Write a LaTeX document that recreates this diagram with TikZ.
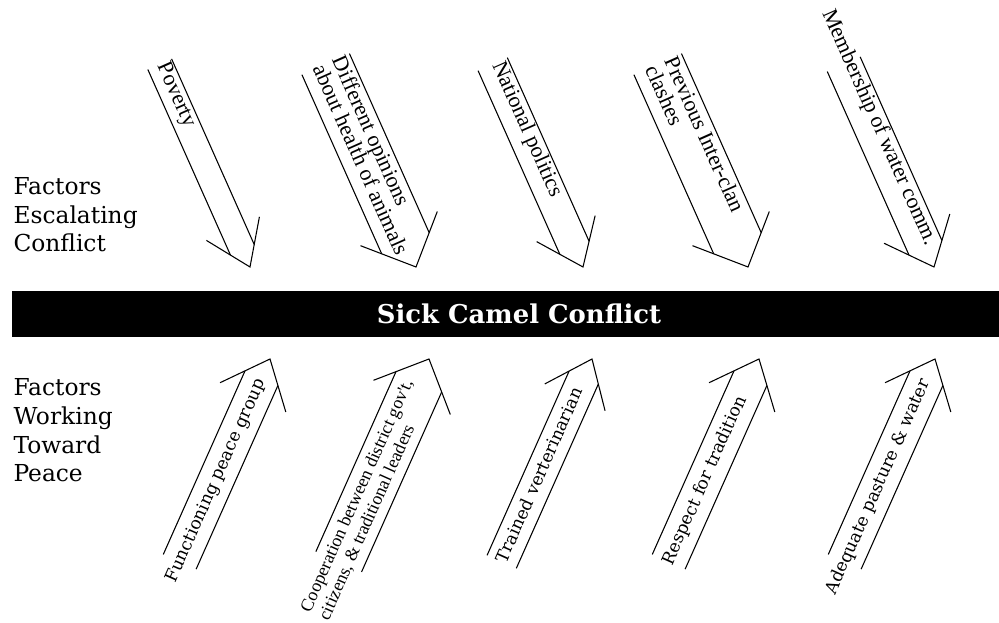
\documentclass[tikz,border=0pt]{standalone}
\usepackage{fontspec}
\newfontfamily\timesfont{Liberation Serif}
\newfontfamily\serfont{DejaVu Serif}
\usetikzlibrary{calc}
\tikzset{uplab/.style={rotate=-66,anchor=base west,inner sep=0pt,align=left,
			font=\timesfont\fontsize{16.5}{15.8}\selectfont},
	downlab/.style={rotate=66,anchor=base west,inner sep=0pt,align=left,
			font=\serfont\fontsize{13}{15}\selectfont},
	sidelab/.style={anchor=base west,inner sep=0pt,align=left,
			font=\serfont\fontsize{17.5}{21.7}\selectfont}}
% tip, angle, half shaft, half head, label
\newcommand{\bigarrow}[5]{%
	\begin{scope}[shift={#1},rotate=#2]
		\draw (-222,#3) -- ({-42*#3/#4},#3) (-222,-#3) -- ({-42*#3/#4},-#3);
		\draw (-42,#4) -- (0,0) -- (-42,-#4);
		#5
	\end{scope}}

\begin{document}
\begin{tikzpicture}[x=0.75pt,y=0.75pt,line width=0.8pt]
				\useasboundingbox (0,0) rectangle (999,623);
				\fill (12,286) rectangle (999,332);
				\node[text=white,inner sep=0pt,font=\serfont\bfseries\fontsize{19.4}{20}\selectfont] (title) at (519,309) {Sick Camel Conflict};
				\node[sidelab] (esc) at (13,371) {Factors\\Escalating\\Conflict};
				\node[sidelab] (peace) at (13,141) {Factors\\Working\\Toward\\Peace};
				% escalating
				\bigarrow{(250,356)}{-66}{13}{29}{\node[uplab] (poverty) at (-222,-3) {Poverty};}
				\bigarrow{(416,356)}{-66}{26}{42}{\node[uplab] (opinions) at (-224,-14) {Different opinions\\about health of animals};}
				\bigarrow{(583,356)}{-66}{16}{32}{\node[uplab] (politics) at (-222,-1) {National politics};}
				\bigarrow{(748,356)}{-66}{26}{42}{\node[uplab] (clashes) at (-223,-14) {Previous Inter-clan\\clashes};}
				\bigarrow{(934,356)}{-66}{18}{36}{\node[uplab] (water) at (-278,1) {Membership of water comm.};}
				% toward peace
				\bigarrow{(270,264)}{66}{18}{36}{\node[downlab] (group) at (-244,-5) {Functioning peace group};}
				\bigarrow{(429,264)}{66}{25}{42}{\node[downlab,font=\timesfont\fontsize{13.5}{15}\selectfont] (coop) at (-281,-15) {Cooperation between district gov't,\\citizens, \& traditional leaders};}
				\bigarrow{(592,264)}{66}{16}{33}{\node[downlab] (vet) at (-223,-5) {Trained verterinarian};}
				\bigarrow{(759,264)}{66}{18}{36}{\node[downlab] (tradition) at (-225,-5) {Respect for tradition};}
				\bigarrow{(935,264)}{66}{18}{36}{\node[downlab] (pasture) at (-257,-5) {Adequate pasture \& water};}
			\end{tikzpicture}
\end{document}
